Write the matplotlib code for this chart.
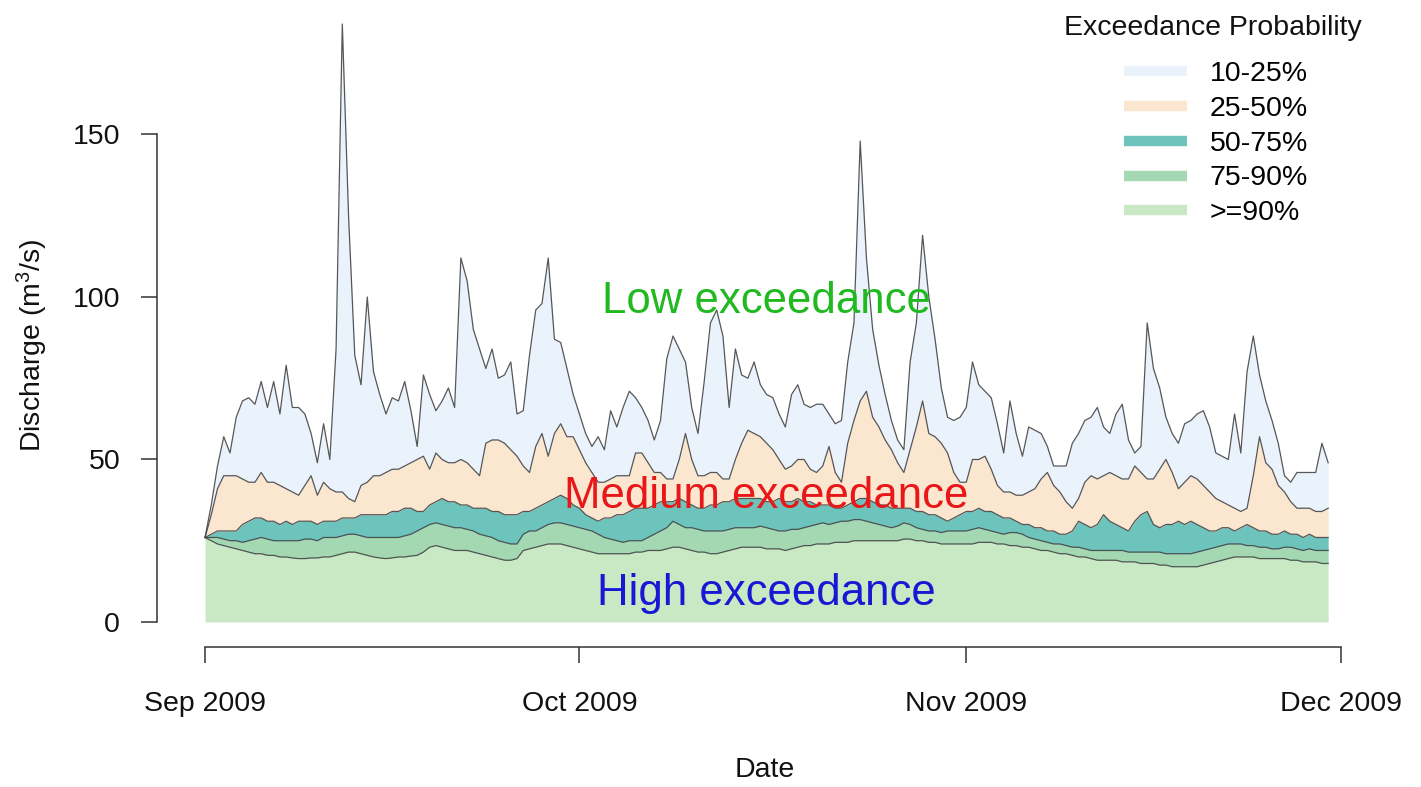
import numpy as np
import pandas as pd
import matplotlib
matplotlib.use('Agg')
import matplotlib.pyplot as plt
import matplotlib.dates as mdates
from matplotlib.lines import Line2D

plt.rcParams['font.family'] = ['Liberation Sans', 'DejaVu Sans']
plt.rcParams['mathtext.fontset'] = 'custom'
plt.rcParams['mathtext.rm'] = 'Liberation Sans'
plt.rcParams['mathtext.default'] = 'regular'

# half-daily time steps, Sep 1 - Nov 30 2009
dates = pd.date_range('2009-09-01', '2009-11-30', freq='12h')

# discharge at each exceedance probability (m3/s)
q10 = [26, 36, 48, 57, 52, 63, 68, 69, 67, 74,
       66, 74, 64, 79, 66, 66, 64, 58, 49, 61,
       50, 84, 184, 125, 82, 73, 100, 77, 70, 64,
       69, 68, 74, 65, 54, 76, 70, 65, 68, 72,
       66, 112, 105, 90, 84, 78, 84, 75, 76, 80,
       64, 65, 82, 96, 98, 112, 87, 86, 78, 70,
       64, 58, 54, 57, 53, 65, 60, 66, 71, 69,
       66, 62, 56, 62, 81, 88, 84, 80, 66, 58,
       74, 92, 96, 88, 66, 84, 76, 75, 80, 73,
       70, 69, 64, 60, 70, 73, 67, 66, 67, 67,
       64, 61, 62, 80, 92, 148, 112, 90, 79, 70,
       62, 56, 53, 80, 92, 119, 100, 87, 72, 63,
       62, 63, 66, 80, 73, 71, 69, 61, 52, 68,
       58, 51, 60, 59, 58, 54, 48, 48, 48, 55,
       58, 62, 63, 66, 60, 58, 64, 67, 56, 52,
       54, 92, 78, 72, 63, 58, 55, 61, 62, 64,
       65, 60, 52, 51, 50, 64, 52, 77, 88, 76,
       68, 62, 55, 45, 43, 46, 46, 46, 46, 55,
       49]

q25 = [26, 33, 41, 45, 45, 45, 44, 43, 43, 46,
       43, 43, 42, 41, 40, 39, 42, 45, 39, 43,
       41, 40, 40, 38, 37, 42, 43, 45, 45, 46,
       47, 47, 48, 49, 50, 51, 47, 52, 50, 49,
       49, 50, 49, 47, 45, 55, 56, 56, 55, 53,
       51, 48, 46, 54, 58, 51, 58, 61, 57, 57,
       53, 49, 46, 43, 43, 44, 45, 45, 45, 52,
       52, 49, 46, 46, 44, 44, 50, 58, 50, 45,
       45, 46, 46, 44, 44, 50, 55, 59, 58, 57,
       55, 53, 50, 47, 48, 50, 50, 47, 46, 48,
       54, 46, 43, 55, 62, 68, 71, 63, 60, 56,
       53, 49, 46, 53, 60, 68, 58, 57, 55, 52,
       46, 43, 43, 50, 50, 51, 47, 42, 40, 40,
       39, 39, 40, 41, 44, 46, 42, 40, 37, 35,
       38, 43, 45, 44, 45, 46, 45, 44, 44, 48,
       46, 44, 44, 47, 50, 46, 41, 43, 45, 44,
       42, 40, 38, 37, 36, 35, 34, 35, 45, 57,
       49, 47, 42, 40, 37, 35, 35, 35, 34, 34,
       35]

q50 = [26, 27, 28, 28, 28, 28, 30, 31, 32, 32,
       31, 31, 30, 31, 30, 31, 31, 31, 30, 31,
       31, 31, 32, 32, 32, 33, 33, 33, 33, 33,
       34, 34, 35, 35, 34, 34, 36, 37, 38, 37,
       37, 36, 36, 35, 35, 35, 34, 34, 33, 33,
       33, 34, 34, 35, 36, 37, 38, 39, 38, 36,
       35, 33, 32, 31, 32, 32, 33, 33, 34, 35,
       35, 35, 36, 37, 37, 37, 38, 37, 36, 35,
       35, 36, 36, 37, 37, 38, 38, 38, 38, 38,
       37, 37, 38, 37, 37, 38, 37, 37, 36, 36,
       36, 35, 35, 36, 37, 38, 38, 37, 36, 36,
       35, 35, 35, 35, 34, 34, 33, 33, 32, 31,
       32, 33, 34, 34, 35, 34, 34, 33, 32, 32,
       31, 30, 30, 29, 29, 28, 28, 27, 27, 28,
       31, 30, 29, 30, 33, 31, 30, 29, 28, 31,
       33, 34, 30, 29, 30, 30, 31, 30, 31, 30,
       29, 28, 28, 29, 29, 28, 29, 30, 29, 28,
       28, 27, 27, 28, 27, 27, 26, 27, 26, 26,
       26]

q75 = [26, 26, 26, 25.5, 25, 25, 24.5, 25, 25.5, 26,
       25.5, 25, 25, 25, 25, 25, 25.5, 25.5, 25, 26,
       26, 26, 26.5, 27, 27, 26.5, 26, 26, 26, 26,
       26, 26, 26.5, 27, 28, 29, 30, 30.5, 30, 29.5,
       29, 29, 28.5, 28, 27, 26.5, 26, 25, 24.5, 24,
       24, 27, 28, 28, 29, 30, 30.5, 30.5, 30, 29.5,
       29, 28.5, 28, 27, 26, 25.5, 25, 24.5, 25, 25,
       25, 26, 27, 28, 29, 31, 30, 29, 29, 28.5,
       28, 28, 28, 28, 28.5, 29, 29, 29, 29, 29.5,
       29, 28.5, 28, 28, 28.5, 28.5, 29, 29.5, 30, 30.5,
       30, 30.5, 31, 31, 31.5, 31.5, 31, 30.5, 30, 29.5,
       29, 29.5, 30.5, 30, 29, 28.5, 28, 28, 27.5, 28,
       28, 28, 28, 28.5, 29, 28.5, 28, 27.5, 27, 27.5,
       27.5, 27, 26, 25.5, 25, 24.5, 24, 24, 23.5, 23,
       23, 22.5, 22, 22, 22, 22, 22, 22, 21.5, 21.5,
       21.5, 21.5, 21.5, 21.5, 21, 21, 21, 21, 21, 21.5,
       22, 22.5, 23, 23.5, 24, 24, 24, 23.5, 23.5, 23,
       23, 22.5, 22.5, 23, 23, 22.5, 22, 22.5, 22, 22,
       22]

q90 = [26, 25, 24, 23.5, 23, 22.5, 22, 21.5, 21, 21,
       20.5, 20.5, 20, 20, 19.7, 19.5, 19.5, 19.7, 19.7, 20,
       20, 20.5, 21, 21.5, 21.5, 21, 20.5, 20, 19.7, 19.5,
       19.7, 20, 20, 20.3, 20.5, 21.5, 23, 23.5, 23, 22.5,
       22, 22, 22, 21.5, 21, 20.5, 20, 19.5, 19, 19,
       19.5, 22, 22.5, 23, 23.5, 24, 24, 24, 23.5, 23,
       22.5, 22, 21.5, 21, 21, 21, 21, 21, 21, 21.5,
       21.5, 22, 22, 22, 22.5, 23, 23, 22.5, 22, 21.5,
       21.5, 21, 21, 21.5, 22, 22.5, 23, 23, 23, 23,
       22.5, 22.5, 22.5, 22, 22.5, 23, 23.5, 23.5, 24, 24,
       24, 24.5, 24.5, 24.5, 25, 25, 25, 25, 25, 25,
       25, 25, 25.5, 25.5, 25, 25, 24.5, 24.5, 24, 24,
       24, 24, 24, 24, 24.5, 24.5, 24.5, 24, 24, 23.5,
       23.5, 23, 23, 22.5, 22, 22, 21.5, 21, 21, 20.5,
       20, 20, 19.5, 19, 19, 19, 19, 18.5, 18.5, 18.5,
       18, 18, 18, 17.5, 17.5, 17, 17, 17, 17, 17,
       17.5, 18, 18.5, 19, 19.5, 20, 20, 20, 20, 19.5,
       19.5, 19.5, 19.5, 19.5, 19, 19, 18.5, 18.5, 18.5, 18,
       18]

band_labels = ['10-25%', '25-50%', '50-75%', '75-90%', '>=90%']
band_colors = ['#EAF2FB', '#FBE6D0', '#6CC4BC', '#A3D8B2', '#C9E9C4']
line_color = '#454545'

tick_dates = pd.to_datetime(['2009-09-01', '2009-10-01', '2009-11-01', '2009-12-01'])
tick_labels = ['Sep 2009', 'Oct 2009', 'Nov 2009', 'Dec 2009']
yticks = [0, 50, 100, 150]

label_date = pd.Timestamp('2009-10-16')
zone_text = ['Low exceedance', 'Medium exceedance', 'High exceedance']
zone_y = [100, 40, 10]
zone_colors = ['#20BA20', '#E81818', '#1818D4']

q10, q25, q50, q75, q90 = [np.array(q) for q in (q10, q25, q50, q75, q90)]

fig = plt.figure(figsize=(14.21, 7.87), dpi=100)
ax = fig.add_axes([0.11048, 0.17789, 0.85932, 0.81639])

# stacked bands, bottom to top
zeros = np.zeros(len(dates))
ax.fill_between(dates, zeros, q90, color=band_colors[4], lw=0)
ax.fill_between(dates, q90, q75, color=band_colors[3], lw=0)
ax.fill_between(dates, q75, q50, color=band_colors[2], lw=0)
ax.fill_between(dates, q50, q25, color=band_colors[1], lw=0)
ax.fill_between(dates, q25, q10, color=band_colors[0], lw=0)
for q in (q90, q75, q50, q25, q10):
    ax.plot(dates, q, color=line_color, lw=0.9, alpha=0.9)

start = pd.Timestamp('2009-09-01')
ax.set_xlim(start - pd.Timedelta(days=3.85), start + pd.Timedelta(days=94))
ax.set_ylim(-7.7, 190)

ax.spines['right'].set_visible(False)
ax.spines['top'].set_visible(False)
for s in ('left', 'bottom'):
    ax.spines[s].set_color('#333333')
    ax.spines[s].set_linewidth(1.1)
ax.spines['left'].set_bounds(0, 150)
ax.spines['bottom'].set_bounds(mdates.date2num(tick_dates[0]), mdates.date2num(tick_dates[-1]))

ax.set_xticks(tick_dates, tick_labels)
ax.set_yticks(yticks, [str(v) for v in yticks])
ax.tick_params(axis='both', length=11.5, width=1.1, color='#333333',
               labelsize=20.5, labelcolor='#111111')
ax.tick_params(axis='x', pad=20)
ax.tick_params(axis='y', pad=15)

fig.text(32 / 1421, 1 - 345 / 787, 'Discharge (m$^{3}$/s)', rotation=90,
         ha='center', va='center', fontsize=20.5, color='#111111')
fig.text(765 / 1421, 1 - 770 / 787, 'Date', ha='center', va='center',
         fontsize=20.5, color='#111111')

for txt, yv, c in zip(zone_text, zone_y, zone_colors):
    ax.text(label_date, yv, txt, color=c, fontsize=31.5, ha='center',
            va='center_baseline')

# legend
handles = [Line2D([], [], color=c, lw=7.5, solid_capstyle='butt') for c in band_colors]
fig.text(1213 / 1421, 1 - 28 / 787, 'Exceedance Probability', ha='center',
         va='center', fontsize=20.5, color='#111111')
ax.legend(handles, band_labels, loc='upper center',
          bbox_to_anchor=(1216 / 1421, 1 - 61 / 787), bbox_transform=fig.transFigure,
          frameon=False, fontsize=20.5, handlelength=2.2, handletextpad=0.8,
          labelspacing=0.31, borderpad=0, borderaxespad=0)

fig.savefig('out.png', dpi=100, facecolor='white')
